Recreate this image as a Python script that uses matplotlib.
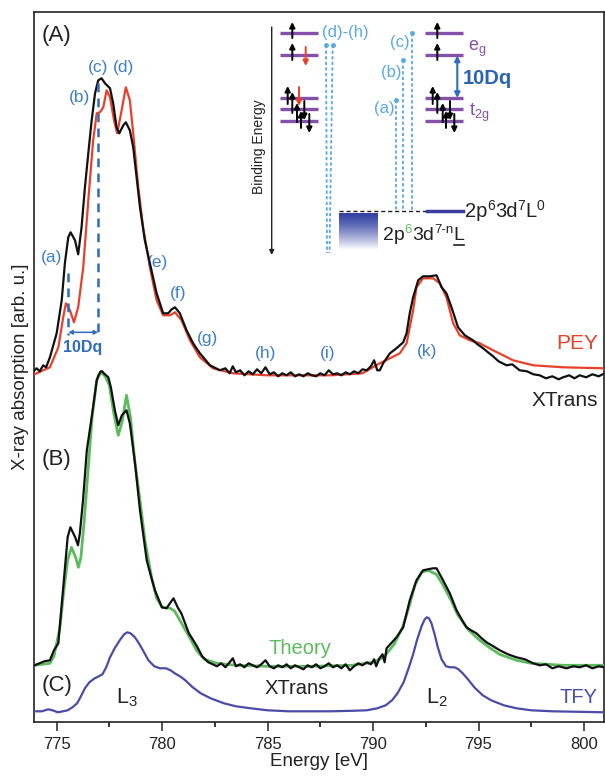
import numpy as np
import matplotlib
matplotlib.use("Agg")
import matplotlib.pyplot as plt
from matplotlib.ticker import MultipleLocator

plt.rcParams['font.family'] = ['Liberation Sans', 'DejaVu Sans']
plt.rcParams['mathtext.fontset'] = 'custom'
plt.rcParams['mathtext.rm'] = 'Liberation Sans'
plt.rcParams['mathtext.it'] = 'Liberation Sans:italic'
plt.rcParams['mathtext.bf'] = 'Liberation Sans:bold'

# ---------------- data (energy in eV, absorption in arb. u., panels stacked) -------------
pey_E = [773.95, 774.05, 774.68, 775.08, 775.31, 775.44, 775.63, 775.82, 776.02, 776.26, 776.5,
         776.73, 776.9, 777.05, 777.21, 777.37, 777.53, 777.72, 777.87, 778.08, 778.28, 778.47,
         778.63, 778.87, 779.1, 779.42, 779.74, 780.05, 780.37, 780.61, 780.92, 781.32, 781.79,
         782.41, 783.36, 784.97, 786.53, 788.0, 789.5, 790.32, 790.8, 791.27, 791.59, 791.9,
         792.06, 792.37, 792.85, 793.17, 793.48, 793.8, 794.11, 794.59, 795.06, 795.69, 796.64,
         797.59, 799.01, 800.98]
pey_I = [348, 349, 355, 375, 405, 419, 412, 400, 415, 455, 522,
         582, 609, 610, 615, 632, 625, 602, 589, 612, 635, 622,
         589, 535, 495, 455, 422, 407, 407, 410, 402, 382, 365,
         354, 349, 347, 347, 347, 349, 359, 364, 369, 379, 412,
         435, 444, 444, 439, 425, 399, 387, 382, 379, 372, 362,
         357, 355, 354]

xa_E = [773.95, 774.05, 774.2, 774.36, 774.5, 774.68, 775.0, 775.24, 775.39, 775.55, 775.66, 775.87,
        776.02, 776.18, 776.34, 776.5, 776.66, 776.82, 776.97, 777.13, 777.29, 777.53, 777.68,
        777.84, 777.97, 778.16, 778.28, 778.47, 778.63, 778.79, 778.95, 779.18, 779.42, 779.74,
        780.05, 780.29, 780.45, 780.61, 780.84, 781.16, 781.47, 781.79, 782.27, 782.74,
        783.0, 783.2, 783.35, 783.5, 783.7, 783.9, 784.1, 784.3, 784.5, 784.7, 784.9, 785.1,
        785.3, 785.5, 785.7, 785.9, 786.1, 786.3, 786.5, 786.7, 786.9, 787.1, 787.3, 787.5,
        787.7, 787.9, 788.1, 788.3, 788.5, 788.7, 788.9, 789.1, 789.3, 789.5, 789.7, 789.9,
        790.05, 790.2, 790.32, 790.48, 790.8, 791.11, 791.43, 791.59, 791.74, 791.9, 792.14,
        792.37, 792.69, 793.01, 793.25, 793.48, 793.72, 794.03, 794.35, 794.74, 794.95, 795.22,
        795.45, 795.69, 795.95, 796.33, 796.6, 796.95, 797.3, 797.6, 797.9, 798.2, 798.5,
        798.8, 799.01, 799.3, 799.55, 799.8, 800.1, 800.4, 800.7, 800.98]
xa_I = [352, 354, 351, 357, 355, 365, 389, 422, 459, 485, 490, 482,
        468, 495, 535, 569, 602, 629, 642, 644, 639, 634, 619,
        595, 589, 597, 600, 592, 575, 545, 515, 482, 459, 429,
        409, 409, 413, 415, 409, 392, 379, 369, 357, 352,
        354, 349, 356, 350, 352, 347, 351, 348, 353, 349, 355, 348,
        350, 346, 349, 347, 350, 346, 348, 346, 349, 347, 346, 349,
        347, 352, 348, 349, 347, 350, 348, 351, 349, 353, 352, 356,
        362, 352, 352, 359, 369, 374, 380, 389, 409, 425, 442,
        446, 446, 447, 435, 429, 415, 395, 387, 382, 378, 374,
        370, 366, 361, 357, 358, 352, 351, 348, 347, 344, 346,
        343, 345, 347, 344, 347, 345, 348, 346, 349]

xb_E = [773.95, 774.42, 774.68, 774.87, 775.08, 775.16, 775.3, 775.52, 775.65, 775.88, 776.01,
        776.1, 776.25, 776.43, 776.68, 776.9, 776.98, 777.09, 777.16, 777.24, 777.45, 777.57,
        777.76, 777.92, 778.09, 778.31, 778.47, 778.71, 778.95, 779.27, 779.42, 779.66, 779.99,
        780.21, 780.37, 780.54, 780.76, 780.91, 781.16, 781.27, 781.45, 781.65, 781.9, 782.19,
        782.4, 782.6, 782.8, 783.0, 783.2, 783.35, 783.5, 783.7, 783.9, 784.1, 784.3, 784.5,
        784.7, 784.9, 785.1, 785.3, 785.5, 785.7, 785.9, 786.1, 786.3, 786.5, 786.7, 786.9,
        787.1, 787.3, 787.5, 787.7, 787.9, 788.1, 788.3, 788.5, 788.7, 788.9, 789.1, 789.3,
        789.5, 789.7, 789.9, 790.05, 790.15, 790.3, 790.45, 790.55, 790.64, 790.9, 791.11,
        791.43, 791.74, 792.06, 792.37, 792.6, 792.85, 793.01, 793.32, 793.64, 793.96, 794.2,
        794.43, 794.65, 794.9, 795.15, 795.38, 795.7, 796.01, 796.4, 796.8, 797.2, 797.59,
        797.9, 798.2, 798.5, 798.8, 799.17, 799.5, 799.8, 800.1, 800.4, 800.7, 800.98]
xb_I = [57, 61, 62, 72, 79, 99, 132, 185, 195, 185, 177,
        189, 222, 272, 308, 342, 347, 351, 351, 349, 345, 335,
        312, 297, 307, 312, 299, 260, 212, 162, 150, 132, 115,
        114, 119, 124, 114, 109, 95, 89, 83, 76, 66, 60,
        58, 56, 59, 55, 60, 64, 56, 58, 55, 59, 57, 55,
        58, 62, 56, 54, 57, 55, 58, 54, 57, 55, 53, 57,
        55, 58, 54, 56, 59, 55, 57, 54, 58, 52, 56, 59,
        57, 60, 58, 63, 56, 64, 68, 60, 74, 80, 85,
        95, 122, 142, 152, 153, 154, 154, 142, 129, 112, 103,
        95, 92, 89, 84, 80, 76, 72, 68, 65, 63, 59,
        57, 58, 54, 56, 54, 56, 55, 57, 54, 56, 55]

th_E = [773.95, 774.68, 774.87, 775.16, 775.33, 775.52, 775.7, 775.9, 776.03, 776.15, 776.3,
        776.5, 776.68, 776.9, 777.1, 777.3, 777.5, 777.7, 777.92, 778.1, 778.31, 778.5,
        778.7, 778.95, 779.2, 779.5, 779.74, 780.0, 780.39, 780.6, 780.76, 781.0, 781.3,
        781.63, 782.0, 782.6, 783.5, 785.0, 787.0, 789.0, 790.0, 790.5, 791.0, 791.4,
        791.7, 792.0, 792.3, 792.6, 793.0, 793.3, 793.7, 794.0, 794.5, 795.0, 795.5,
        796.0, 796.8, 797.5, 799.0, 800.98]
th_I = [57, 59, 66, 95, 130, 162, 175, 165, 155, 165, 200,
        255, 305, 342, 350, 346, 337, 310, 287, 300, 327, 305,
        262, 222, 180, 145, 124, 115, 114, 111, 105, 96, 85,
        72, 63, 59, 57, 56, 56, 57, 60, 65, 78, 95,
        115, 138, 150, 152, 148, 138, 122, 108, 93, 83, 75,
        68, 62, 59, 57, 57]

tfy_E = [773.95, 774.3, 774.6, 774.8, 775.06, 775.3, 775.52, 775.75, 775.97, 776.15, 776.34,
         776.55, 776.8, 777.0, 777.17, 777.35, 777.53, 777.75, 777.99, 778.2, 778.35, 778.5,
         778.71, 778.9, 779.09, 779.35, 779.63, 779.9, 780.18, 780.4, 780.6, 780.85, 781.1,
         781.45, 781.83, 782.3, 782.93, 783.5, 784.2, 785.0, 786.0, 787.0, 788.0, 789.0,
         789.7, 790.2, 790.6, 790.9, 791.16, 791.45, 791.7, 791.9, 792.08, 792.3, 792.45,
         792.55, 792.65, 792.77, 792.92, 793.07, 793.25, 793.46, 793.65, 793.87, 794.05,
         794.25, 794.5, 794.8, 795.2, 795.6, 796.2, 796.8, 797.5, 798.5, 800.98]
tfy_I = [11, 11, 13, 12, 10, 11, 12, 15, 19, 26, 34,
         40, 44, 46, 48, 55, 65, 74, 82, 88, 90, 89,
         85, 79, 72, 62, 56, 54, 54, 52, 49, 46, 42,
         35, 29, 24, 19, 16, 14, 12, 11, 11, 11, 11.5,
         12, 14, 17, 22, 29, 40, 55, 68, 82, 96, 103,
         105, 104, 99, 88, 75, 63, 56, 55, 55, 53,
         49, 43, 35, 27, 22, 17, 14, 12, 11, 10]

ticks_E = [775, 780, 785, 790, 795, 800]

# peak labels of panel A: (label, energy, height)
peak_labels = [("(a)", 774.78, 465), ("(b)", 776.06, 625), ("(c)", 776.96, 655),
               ("(d)", 778.19, 655), ("(e)", 779.8, 460), ("(f)", 780.75, 429),
               ("(g)", 782.17, 384), ("(h)", 784.9, 369), ("(i)", 787.86, 369),
               ("(k)", 792.55, 371)]
dq_E = [775.55, 776.97]        # energies of the two 10Dq markers
dq_top = [449, 639]

# ---------------- figure ----------------
W, H = 605, 777
fig = plt.figure(figsize=(W / 100, H / 100), dpi=100)
ax = fig.add_axes([34.3 / W, 54.7 / H, (604 - 34.3) / W, (722.3 - 11.7) / H])

BLACK = '#111111'
RED = '#e8402a'
GREEN = '#5cbb5c'
TFYC = '#4b4ba8'
LBLUE = '#3f7fca'
DARK = '#222222'

ax.plot(pey_E, pey_I, color=RED, lw=1.6, zorder=3)
ax.plot(xa_E, xa_I, color=BLACK, lw=1.6, zorder=4)
ax.plot(th_E, th_I, color=GREEN, lw=2.0, zorder=3)
ax.plot(xb_E, xb_I, color=BLACK, lw=1.6, zorder=4)
ax.plot(tfy_E, tfy_I, color=TFYC, lw=1.6, zorder=3)

ax.set_xlim(773.94, 800.95)
ax.set_ylim(0, 710.6)
ax.set_yticks([])
ax.set_xticks(ticks_E)
ax.xaxis.set_minor_locator(MultipleLocator(2.5))
ax.tick_params(axis='x', which='major', direction='out', length=6.5, width=1.1,
               labelsize=12, pad=4, colors=DARK)
ax.tick_params(axis='x', which='minor', direction='out', length=3.5, width=1.1)
for s in ax.spines.values():
    s.set_linewidth(1.2)
    s.set_color(DARK)
ax.set_xlabel("Energy [eV]", fontsize=13.5, labelpad=1, color=DARK)
ax.set_ylabel("X-ray absorption [arb. u.]", fontsize=13.5, labelpad=4, color=DARK)

# panel letters
ax.text(774.3, 687, "(A)", fontsize=16, va='center', ha='left', color=DARK)
ax.text(774.3, 263, "(B)", fontsize=16, va='center', ha='left', color=DARK)
ax.text(774.3, 37, "(C)", fontsize=16, va='center', ha='left', color=DARK)

# curve labels
ax.text(800.66, 379, "PEY", fontsize=15, color=RED, ha='right', va='center')
ax.text(800.66, 322, "XTrans", fontsize=15, color=DARK, ha='right', va='center')
ax.text(786.53, 74, "Theory", fontsize=14.5, color=GREEN, ha='center', va='center')
ax.text(786.39, 34, "XTrans", fontsize=14.5, color=DARK, ha='center', va='center')
ax.text(800.66, 25, "TFY", fontsize=14.5, color=TFYC, ha='right', va='center')
ax.text(778.33, 25, r"L$_3$", fontsize=15.5, color=DARK, ha='center', va='center')
ax.text(793.03, 25, r"L$_2$", fontsize=15.5, color=DARK, ha='center', va='center')

for lab, e, h in peak_labels:
    ax.text(e, h, lab, fontsize=12.5, color=LBLUE, ha='center', va='center')

for e, top in zip(dq_E, dq_top):
    ax.plot([e, e], [top, 387], color='#2f6cc0', lw=1.8, ls=(0, (3.5, 2.5)), zorder=5)
ax.annotate('', xy=(dq_E[1], 390), xytext=(dq_E[0], 390),
            arrowprops=dict(arrowstyle='<|-|>', color='#2f6cc0', lw=1.1,
                            mutation_scale=6, shrinkA=0, shrinkB=0))
ax.text(np.mean(dq_E) - 0.05, 375, "10Dq", fontsize=11.5, fontweight='bold',
        color='#2f6cc0', ha='center', va='center')

# ---------------- inset: energy level scheme (pixel coordinates) ----------------
ov = fig.add_axes([0, 0, 1, 1], facecolor='none')
ov.set_xlim(0, W)
ov.set_ylim(H, 0)
ov.axis('off')

PURPLE = '#8450aa'
DOT = '#5aa8e6'
level_y = [32.5, 55, 98.3, 109.3, 120.5]
left_x = (280, 318)
right_x = (425, 463)
for y in level_y:
    ov.plot(left_x, [y, y], color=PURPLE, lw=2.4, solid_capstyle='butt')
    ov.plot(right_x, [y, y], color=PURPLE, lw=2.4, solid_capstyle='butt')


def spin(x, ytail, yhead, c='black'):
    ov.annotate('', xy=(x, yhead), xytext=(x, ytail),
                arrowprops=dict(arrowstyle='-|>', color=c, lw=1.4, mutation_scale=8,
                                shrinkA=0, shrinkB=0))


# left configuration
spin(292.3, 38, 22)
spin(292.3, 60, 43)
spin(305.7, 47, 66, RED)
spin(287.7, 104, 86)
spin(292.3, 113, 92)
spin(299, 87, 106, RED)
spin(297, 122, 103)
spin(304.3, 101, 120)
spin(301, 128, 111)
spin(309.3, 114, 133)
# right configuration
spin(437.3, 38, 22)
spin(437.3, 60, 43)
spin(432.7, 104, 86)
spin(437.3, 113, 92)
spin(442.7, 122, 103)
spin(450, 101, 120)
spin(446, 128, 111)
spin(454.3, 114, 133)

ov.annotate('', xy=(457.3, 98), xytext=(457.3, 55.5),
            arrowprops=dict(arrowstyle='<|-|>', color='#2f6cc0', lw=1.5,
                            mutation_scale=8, shrinkA=0, shrinkB=0))
ov.text(463, 78, "10Dq", fontsize=14.5, fontweight='bold', color='#2a62b5',
        ha='left', va='center')
ov.text(468, 49, r"e$_\mathregular{g}$", fontsize=13, color=PURPLE, ha='left', va='center')
ov.text(469, 113, r"t$_\mathregular{2g}$", fontsize=13, color=PURPLE, ha='left', va='center')

# binding energy axis
ov.annotate('', xy=(271.7, 255), xytext=(271.7, 27),
            arrowprops=dict(arrowstyle='-|>', color=DARK, lw=1.0,
                            mutation_scale=7, shrinkA=0, shrinkB=0))
ov.text(259, 147, "Binding Energy", fontsize=10, rotation=90, ha='center', va='center',
        color=DARK)

# transitions (dotted)
trans = [((326, 45), (327, 253)), ((332.7, 45), (329.5, 253)),
         ((395.7, 100), (395.7, 210)), ((403.3, 60), (403.3, 210)),
         ((411.7, 33), (411.7, 210))]
for (x0, y0), (x1, y1) in trans:
    ov.plot([x0, x1], [y0, y1], color=DOT, lw=1.3, ls=(0, (1.8, 1.3)))
    ov.plot([x0], [y0], 'o', color=DOT, ms=2.5)
ov.text(345, 32, "(d)-(h)", fontsize=12, color=DOT, ha='center', va='center')
ov.text(384, 108, "(a)", fontsize=12, color=DOT, ha='center', va='center')
ov.text(391, 72, "(b)", fontsize=12, color=DOT, ha='center', va='center')
ov.text(400, 42, "(c)", fontsize=12, color=DOT, ha='center', va='center')

ov.plot([339.3, 426.7], [210.7, 210.7], color=DARK, lw=1.0, ls=(0, (3, 2)))
ov.plot([426.7, 463.3], [210.7, 210.7], color='#3a3aa0', lw=2.5)

grad = np.linspace(0, 1, 64)[:, None]
c0 = np.array([0.2, 0.26, 0.64])
img = c0[None, None, :] * (1 - grad[:, :, None] ** 1.3) + np.ones(3)[None, None, :] * grad[:, :, None] ** 1.3
img = np.repeat(img, 4, axis=1)
ov.imshow(img, extent=(339.3, 377.7, 250, 213.3), origin='upper', aspect='auto', zorder=2)
ov.set_xlim(0, W)
ov.set_ylim(H, 0)

# configuration labels, set piece by piece on a common baseline (superscripts raised)
renderer = fig.canvas.get_renderer()


def rich(x, ybase, pieces):
    for txt, col, size, raise_px in pieces:
        t = ov.text(x, ybase - raise_px, txt, fontsize=size, color=col,
                    ha='left', va='baseline')
        bb = t.get_window_extent(renderer)
        x = ov.transData.inverted().transform((bb.x1, bb.y0))[0]
    return x


rich(465, 217, [("2p", DARK, 14.5, 0), ("6", DARK, 10, 7), ("3d", DARK, 14.5, 0),
                ("7", DARK, 10, 7), ("L", DARK, 14.5, 0), ("0", DARK, 10, 7)])
x_end = rich(383, 240, [("2p", DARK, 14, 0), ("6", GREEN, 9.5, 7), ("3d", DARK, 14, 0),
                        ("7-n", DARK, 9.5, 7), ("L", DARK, 14, 0)])
ov.plot([x_end - 10, x_end - 0.5], [244.5, 244.5], color=DARK, lw=1.2)

fig.savefig("out.png", dpi=100)
